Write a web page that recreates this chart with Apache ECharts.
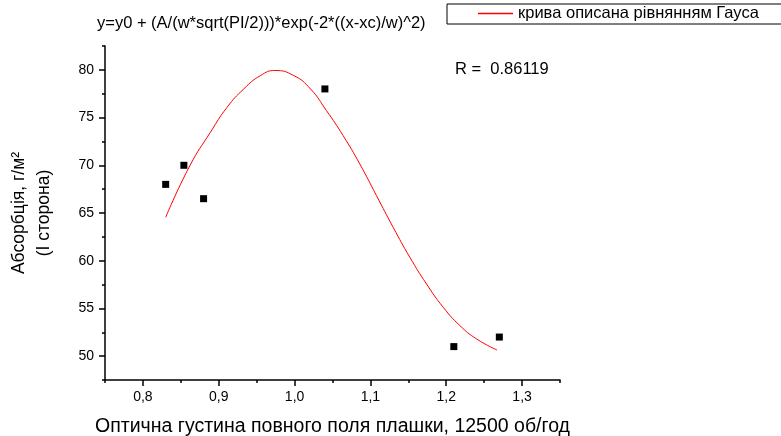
<!DOCTYPE html>
<html>
<head>
    <meta charset="utf-8">
    <script src="https://cdn.jsdelivr.net/npm/echarts@6/dist/echarts.min.js"></script>
    <style>
        html, body { margin: 0; padding: 0; background: #fff; }
        #main { width: 781px; height: 436px; }
    </style>
</head>
<body>
<div id="main"></div>
<script>
    // виміряні точки
    var pointX = [0.83, 0.854, 0.88, 1.04, 1.21, 1.27];
    var pointY = [68, 70, 66.5, 78, 51, 52];

    // точки кривої Гауса
    var curveX = [0.830, 0.862, 0.889, 0.911, 0.933, 0.955, 0.974, 0.999, 1.021, 1.042, 1.064, 1.086, 1.108, 1.130, 1.152, 1.174, 1.196, 1.218, 1.240, 1.267];
    var curveY = [64.55, 69.97, 73.46, 76.08, 78.0, 79.4, 79.93, 79.4, 78.0, 75.73, 73.11, 70.14, 66.82, 63.5, 60.36, 57.56, 55.12, 53.2, 51.8, 50.64];

    // підписи осей
    var xTicks = [0.8, 0.9, 1.0, 1.1, 1.2, 1.3];
    var yTicks = [50, 55, 60, 65, 70, 75, 80];

    var curveName = 'крива описана рівнянням Гауса';
    var font = 'Liberation Sans, Arial, sans-serif';

    function pairs(xs, ys) {
        var res = [];
        for (var i = 0; i < xs.length; i++) res.push([xs[i], ys[i]]);
        return res;
    }

    var axisLine = { show: true, lineStyle: { color: '#000', width: 1.5 } };

    var chart = echarts.init(document.getElementById('main'));
    var option = {
        animation: false,
        backgroundColor: '#fff',
        title: {
            text: 'y=y0 + (A/(w*sqrt(PI/2)))*exp(-2*((x-xc)/w)^2)',
            left: 92,
            top: 10,
            textStyle: { fontFamily: font, fontSize: 16.5, fontWeight: 'normal', color: '#000' }
        },
        legend: {
            data: [curveName],
            left: 447,
            top: 4,
            padding: [1, 110, 2, 31],
            borderColor: '#000',
            borderWidth: 1,
            borderRadius: 0,
            icon: 'rect',
            itemWidth: 35,
            itemHeight: 1.5,
            textStyle: { fontFamily: font, fontSize: 16.5, color: '#000' }
        },
        grid: { left: 105, right: 221, top: 46, bottom: 56, containLabel: false, outerBoundsMode: 'none' },
        xAxis: [{
            type: 'value',
            min: 0.75,
            max: 1.35,
            position: 'bottom',
            axisLine: axisLine,
            axisTick: { show: true, length: 6, customValues: xTicks, lineStyle: { color: '#000', width: 1.5 } },
            axisLabel: {
                customValues: xTicks,
                margin: 10,
                fontFamily: font, fontSize: 14, color: '#000',
                formatter: function (v) { return v.toFixed(1).replace('.', ','); }
            },
            splitLine: { show: false },
            name: 'Оптична густина повного поля плашки, 12500 об/год',
            nameLocation: 'middle',
            nameGap: 37,
            nameTextStyle: { fontFamily: font, fontSize: 19.5, color: '#000' }
        }, {
            type: 'value',
            min: 0.75,
            max: 1.35,
            interval: 0.05,
            position: 'bottom',
            axisLine: { show: false },
            axisTick: { show: true, length: 3, lineStyle: { color: '#000', width: 1.5 } },
            axisLabel: { show: false },
            splitLine: { show: false }
        }],
        yAxis: [{
            type: 'value',
            min: 47.5,
            max: 82.5,
            position: 'left',
            axisLine: axisLine,
            axisTick: { show: true, length: 6, customValues: yTicks, lineStyle: { color: '#000', width: 1.5 } },
            axisLabel: {
                customValues: yTicks,
                margin: 11,
                fontFamily: font, fontSize: 14, color: '#000'
            },
            splitLine: { show: false },
            name: 'Абсорбція, г/м²\n(I сторона)',
            nameLocation: 'middle',
            nameRotate: 90,
            nameGap: 48,
            nameTextStyle: { fontFamily: font, fontSize: 17.5, color: '#000', lineHeight: 25 }
        }, {
            type: 'value',
            min: 47.5,
            max: 82.5,
            interval: 2.5,
            position: 'left',
            axisLine: { show: false },
            axisTick: { show: true, length: 3, lineStyle: { color: '#000', width: 1.5 } },
            axisLabel: { show: false },
            splitLine: { show: false }
        }],
        graphic: [{
            type: 'text',
            left: 455,
            top: 61,
            style: { text: 'R =  0.86119', font: '16.5px ' + font, fill: '#000' }
        }],
        series: [{
            name: curveName,
            type: 'line',
            xAxisIndex: 0,
            yAxisIndex: 0,
            data: pairs(curveX, curveY),
            smooth: 0.5,
            symbol: 'none',
            lineStyle: { color: '#ff0000', width: 1 },
            itemStyle: { color: '#ff0000' }
        }, {
            name: 'дані',
            type: 'scatter',
            xAxisIndex: 0,
            yAxisIndex: 0,
            data: pairs(pointX, pointY),
            symbol: 'rect',
            symbolSize: 7,
            itemStyle: { color: '#000', opacity: 1 }
        }]
    };
    chart.setOption(option);
</script>
</body>
</html>
